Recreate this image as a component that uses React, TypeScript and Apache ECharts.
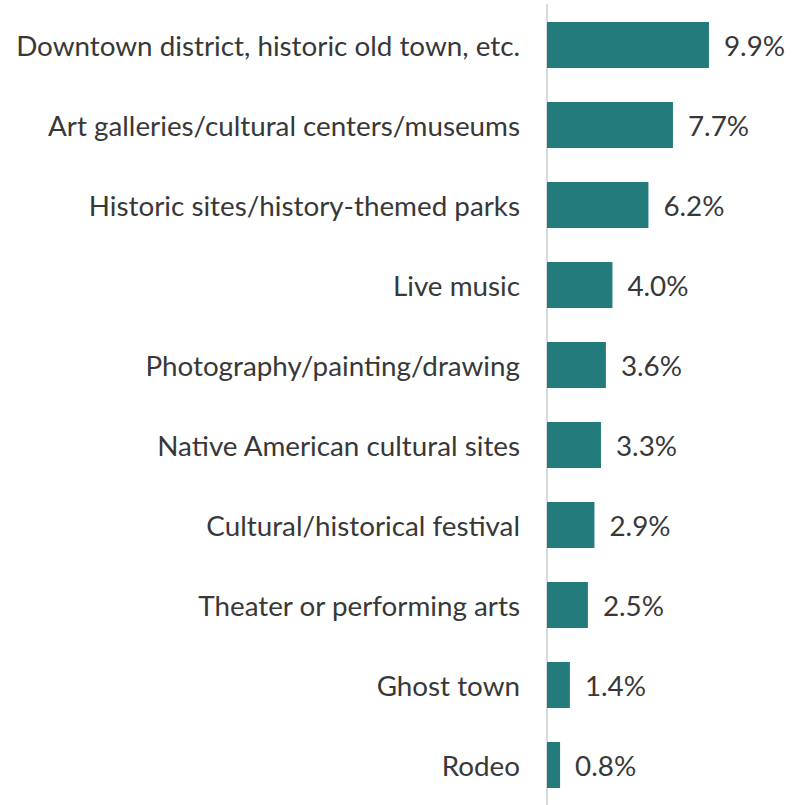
import React, { useEffect, useRef } from "react";
import * as echarts from "echarts";

const categories = [
  "Downtown district, historic old town, etc.",
  "Art galleries/cultural centers/museums",
  "Historic sites/history-themed parks",
  "Live music",
  "Photography/painting/drawing",
  "Native American cultural sites",
  "Cultural/historical festival",
  "Theater or performing arts",
  "Ghost town",
  "Rodeo",
];
const values = [9.9, 7.7, 6.2, 4.0, 3.6, 3.3, 2.9, 2.5, 1.4, 0.8];

const FONT = "Lato";

export default function App() {
  const ref = useRef<HTMLDivElement>(null);
  useEffect(() => {
    if (!ref.current) return;
    const chart = echarts.init(ref.current, null, { renderer: "svg" });
    chart.setOption({
      animation: false,
      grid: { left: 547, top: 5, width: 163.6, height: 803 },
      xAxis: { type: "value", min: 0, max: 10, show: false },
      yAxis: {
        type: "category",
        inverse: true,
        data: categories,
        axisLine: { show: true, lineStyle: { color: "#d9d9d9", width: 2 } },
        axisTick: { show: false },
        axisLabel: {
          margin: 27,
          color: "#383838",
          fontSize: 27.8,
          fontFamily: FONT,
        },
      },
      series: [
        {
          type: "bar",
          data: values,
          barWidth: 46,
          itemStyle: { color: "#247b7b" },
          label: {
            show: true,
            position: "right",
            distance: 15,
            color: "#383838",
            fontSize: 27.8,
            fontFamily: FONT,
            formatter: (p: any) => p.value.toFixed(1) + "%",
          },
        },
      ],
    });
    return () => chart.dispose();
  }, []);
  return (
    <div
      ref={ref}
      style={{ position: "absolute", left: 0, top: 0, width: 795, height: 805 }}
    />
  );
}
